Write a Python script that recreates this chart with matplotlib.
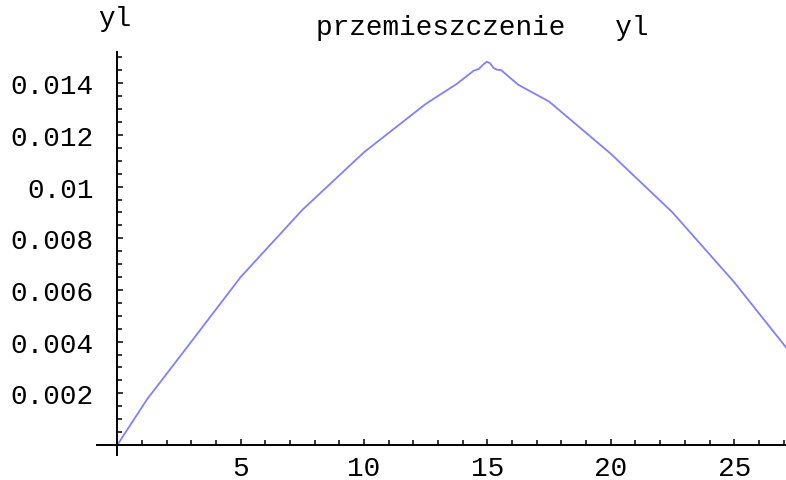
import numpy as np
import matplotlib
matplotlib.use("Agg")
import matplotlib.pyplot as plt
from matplotlib.ticker import FixedLocator, NullFormatter

# displacement yl along the beam
x_pos = [0, 1.2, 3.0, 5.0, 7.5, 10.0, 12.5, 13.75, 14.45, 14.65, 14.85, 14.97,
         15.1, 15.25, 15.4, 15.55, 16.25, 17.5, 20.0, 22.5, 23.75, 25.0, 27.1]
yl = [0, 0.00176, 0.0040, 0.0065, 0.0091, 0.01133, 0.0132, 0.01397,
      0.01449, 0.01455, 0.01474, 0.01483, 0.01478, 0.01459, 0.01452, 0.01451,
      0.01394, 0.01329, 0.01127, 0.0090, 0.00765, 0.0063, 0.00378]

xticks = [5, 10, 15, 20, 25]
xtick_labels = ['5', '10', '15', '20', '25']
yticks = [0.002, 0.004, 0.006, 0.008, 0.010, 0.012, 0.014]
ytick_labels = ['0.002', '0.004', '0.006', '0.008', '0.01', '0.012', '0.014']

W, H = 786, 481
font = 'Liberation Mono'
fs = 20

fig = plt.figure(figsize=(W / 100, H / 100), dpi=100)
# axes box in pixels: left 97, right 786, bottom 456, top 53
ax = fig.add_axes([97.3 / W, 1 - 456 / H, (786 - 97.3) / W, (456 - 52.7) / H])
ax.set_xlim(-0.81, 27.1)
ax.set_ylim(-0.000387, 0.01522)

ax.plot(x_pos, yl, color='#8080ff', lw=1.3, solid_joinstyle='round')

for side in ['top', 'right']:
    ax.spines[side].set_visible(False)
ax.spines['left'].set_position(('data', 0))
ax.spines['bottom'].set_position(('data', 0))
for side in ['left', 'bottom']:
    ax.spines[side].set_linewidth(1.4)

ax.set_xticks(xticks)
ax.set_xticklabels(xtick_labels)
ax.set_yticks(yticks)
ax.set_yticklabels(ytick_labels)
ax.xaxis.set_minor_locator(FixedLocator([v for v in range(1, 28) if v % 5]))
ax.yaxis.set_minor_locator(FixedLocator([0.0005 * k for k in range(1, 31) if k % 4]))
ax.xaxis.set_minor_formatter(NullFormatter())
ax.yaxis.set_minor_formatter(NullFormatter())

ax.tick_params(which='major', direction='in', length=4.5, width=1.1,
               labelsize=fs, color='black')
ax.tick_params(which='minor', direction='in', length=3.3, width=1.1, color='black')
ax.tick_params(axis='x', which='major', pad=7)
ax.tick_params(axis='y', which='major', pad=17)
for lab in ax.get_xticklabels() + ax.get_yticklabels():
    lab.set_fontfamily(font)

fig.text(98 / W, 1 - 26 / H, 'yl', family=font, fontsize=fs,
         ha='left', va='baseline')
fig.text(482 / W, 1 - 35 / H, 'przemieszczenie   yl', family=font, fontsize=fs,
         ha='center', va='baseline')

fig.savefig('out.png', dpi=100, facecolor='white')
